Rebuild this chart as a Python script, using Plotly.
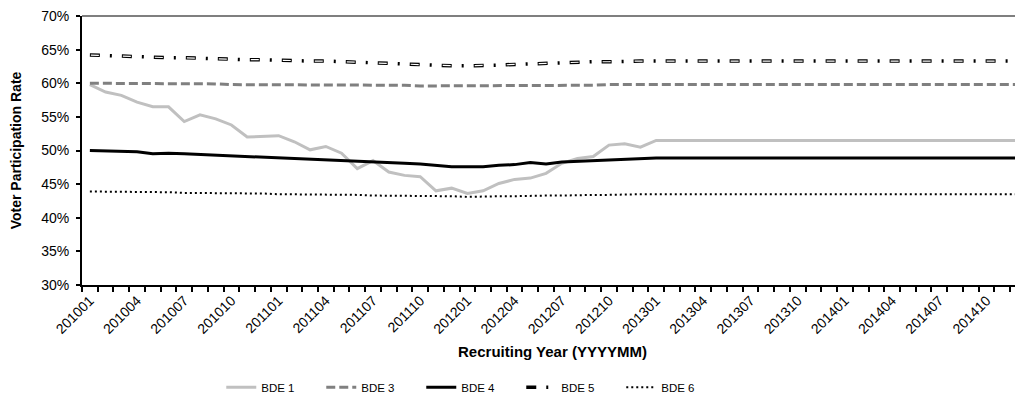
import plotly.graph_objects as go

# Categories: monthly recruiting periods 201001 .. 201412
months = [f"{y}{m:02d}" for y in range(2010, 2015) for m in range(1, 13)]

bde1 = [59.8, 58.7, 58.2, 57.2, 56.5, 56.5, 54.3, 55.3, 54.7, 53.8, 52.0, 52.1,
        52.2, 51.3, 50.1, 50.6, 49.6, 47.3, 48.5, 46.8, 46.3, 46.1, 44.0, 44.4,
        43.6, 44.0, 45.1, 45.7, 45.9, 46.6, 48.1, 48.8, 49.1, 50.8, 51.0, 50.5,
        51.5, 51.5, 51.5, 51.5, 51.5, 51.5, 51.5, 51.5, 51.5, 51.5, 51.5, 51.5,
        51.5, 51.5, 51.5, 51.5, 51.5, 51.5, 51.5, 51.5, 51.5, 51.5, 51.5, 51.5]

bde3 = [60.0, 60.0, 59.9, 59.9, 59.9, 59.9, 59.9, 59.9, 59.9, 59.8, 59.8, 59.8,
        59.8, 59.8, 59.8, 59.7, 59.7, 59.7, 59.7, 59.7, 59.7, 59.6, 59.6, 59.6,
        59.6, 59.6, 59.6, 59.7, 59.7, 59.7, 59.7, 59.7, 59.7, 59.8, 59.8, 59.8,
        59.8, 59.8, 59.8, 59.8, 59.8, 59.8, 59.8, 59.8, 59.8, 59.8, 59.8, 59.8,
        59.8, 59.8, 59.8, 59.8, 59.8, 59.8, 59.8, 59.8, 59.8, 59.8, 59.8, 59.8]

bde4 = [50.0, 49.9, 49.9, 49.8, 49.5, 49.6, 49.5, 49.4, 49.3, 49.2, 49.0, 49.0,
        48.9, 48.8, 48.6, 48.6, 48.5, 48.3, 48.3, 48.2, 48.1, 48.0, 47.8, 47.6,
        47.6, 47.6, 47.8, 47.9, 48.2, 48.0, 48.3, 48.4, 48.6, 48.6, 48.7, 48.9,
        48.9, 48.9, 48.9, 48.9, 48.9, 48.9, 48.9, 48.9, 48.9, 48.9, 48.9, 48.9,
        48.9, 48.9, 48.9, 48.9, 48.9, 48.9, 48.9, 48.9, 48.9, 48.9, 48.9, 48.9]

bde5 = [64.2, 64.1, 64.0, 63.9, 63.9, 63.8, 63.8, 63.7, 63.6, 63.6, 63.5, 63.5,
        63.4, 63.4, 63.3, 63.3, 63.2, 63.2, 63.1, 63.0, 62.9, 62.8, 62.7, 62.6,
        62.6, 62.6, 62.7, 62.8, 62.9, 63.0, 63.0, 63.1, 63.2, 63.2, 63.3, 63.3,
        63.3, 63.3, 63.3, 63.3, 63.3, 63.3, 63.3, 63.3, 63.3, 63.3, 63.3, 63.3,
        63.3, 63.3, 63.3, 63.3, 63.3, 63.3, 63.3, 63.3, 63.3, 63.3, 63.3, 63.3]

bde6 = [43.9, 43.9, 43.9, 43.8, 43.8, 43.8, 43.7, 43.7, 43.7, 43.6, 43.6, 43.6,
        43.5, 43.5, 43.5, 43.4, 43.4, 43.4, 43.3, 43.3, 43.3, 43.2, 43.2, 43.2,
        43.1, 43.2, 43.2, 43.2, 43.3, 43.3, 43.3, 43.4, 43.4, 43.4, 43.5, 43.5,
        43.5, 43.5, 43.5, 43.5, 43.5, 43.5, 43.5, 43.5, 43.5, 43.5, 43.5, 43.5,
        43.5, 43.5, 43.5, 43.5, 43.5, 43.5, 43.5, 43.5, 43.5, 43.5, 43.5, 43.5]

x_pos = list(range(len(months)))
tick_pos = x_pos[::3]
tick_labels = months[::3]

FONT = "Liberation Sans, Arial, sans-serif"

fig = go.Figure()
fig.add_trace(go.Scatter(x=x_pos, y=bde1, name="BDE 1", mode="lines",
                         line=dict(color="#C0C0C0", width=3)))
fig.add_trace(go.Scatter(x=x_pos, y=bde3, name="BDE 3", mode="lines",
                         line=dict(color="#808080", width=3, dash="9px,4px")))
fig.add_trace(go.Scatter(x=x_pos, y=bde4, name="BDE 4", mode="lines",
                         line=dict(color="#000000", width=3)))
fig.add_trace(go.Scatter(x=x_pos, y=bde5, name="BDE 5", mode="lines",
                         line=dict(color="#000000", width=3.5, dash="10px,10px,2px,10px")))
fig.add_trace(go.Scatter(x=x_pos, y=bde5, name="BDE 5 inner", mode="lines",
                         showlegend=False, hoverinfo="skip",
                         line=dict(color="#FFFFFF", width=1.2, dash="0px,1px,8px,23px")))
fig.add_trace(go.Scatter(x=x_pos, y=bde6, name="BDE 6", mode="lines",
                         line=dict(color="#000000", width=2, dash="2px,3px")))

# the page body adds an 8px offset; size the figure so the plot lands where the reference has it
fig.update_layout(
    width=1015, height=401, autosize=False,
    margin=dict(l=74, r=0, t=8, b=124, autoexpand=False),
    paper_bgcolor="white", plot_bgcolor="white",
    font=dict(family=FONT, color="black", size=14),
    showlegend=True,
    legend=dict(orientation="h", x=0.148, xanchor="left", y=-0.38, yanchor="middle",
                font=dict(size=11.5, family=FONT), entrywidth=55, entrywidthmode="pixels",
                traceorder="normal", itemwidth=30),
    shapes=[dict(type="line", xref="paper", yref="paper", x0=0, x1=1, y0=1, y1=1,
                 line=dict(color="#555555", width=1.5))],
)
fig.update_xaxes(
    range=[-0.5, 59.32], showgrid=False, zeroline=False, automargin=False,
    showline=True, linecolor="black", linewidth=2,
    tickmode="array", tickvals=tick_pos, ticktext=tick_labels,
    ticks="", tickangle=-45, tickfont=dict(size=14, family=FONT),
    minor=dict(ticks="outside", tick0=-0.5, dtick=1, ticklen=5, tickcolor="black", tickwidth=1.5),
    title=dict(text="<b>Recruiting Year (YYYYMM)</b>", font=dict(size=15, family=FONT), standoff=11),
)
fig.update_yaxes(
    range=[30, 70], dtick=5, ticksuffix="%", showgrid=False, zeroline=False, automargin=False,
    showline=True, linecolor="black", linewidth=2, ticklabeloverflow="allow",
    ticks="outside", ticklen=4, tickcolor="black", tickwidth=1.5,
    tickfont=dict(size=14, family=FONT), ticklabelstandoff=4,
    title=dict(text="<b>Voter Participation Rate</b>", font=dict(size=14, family=FONT), standoff=16),
)

fig.write_html("out.html")
